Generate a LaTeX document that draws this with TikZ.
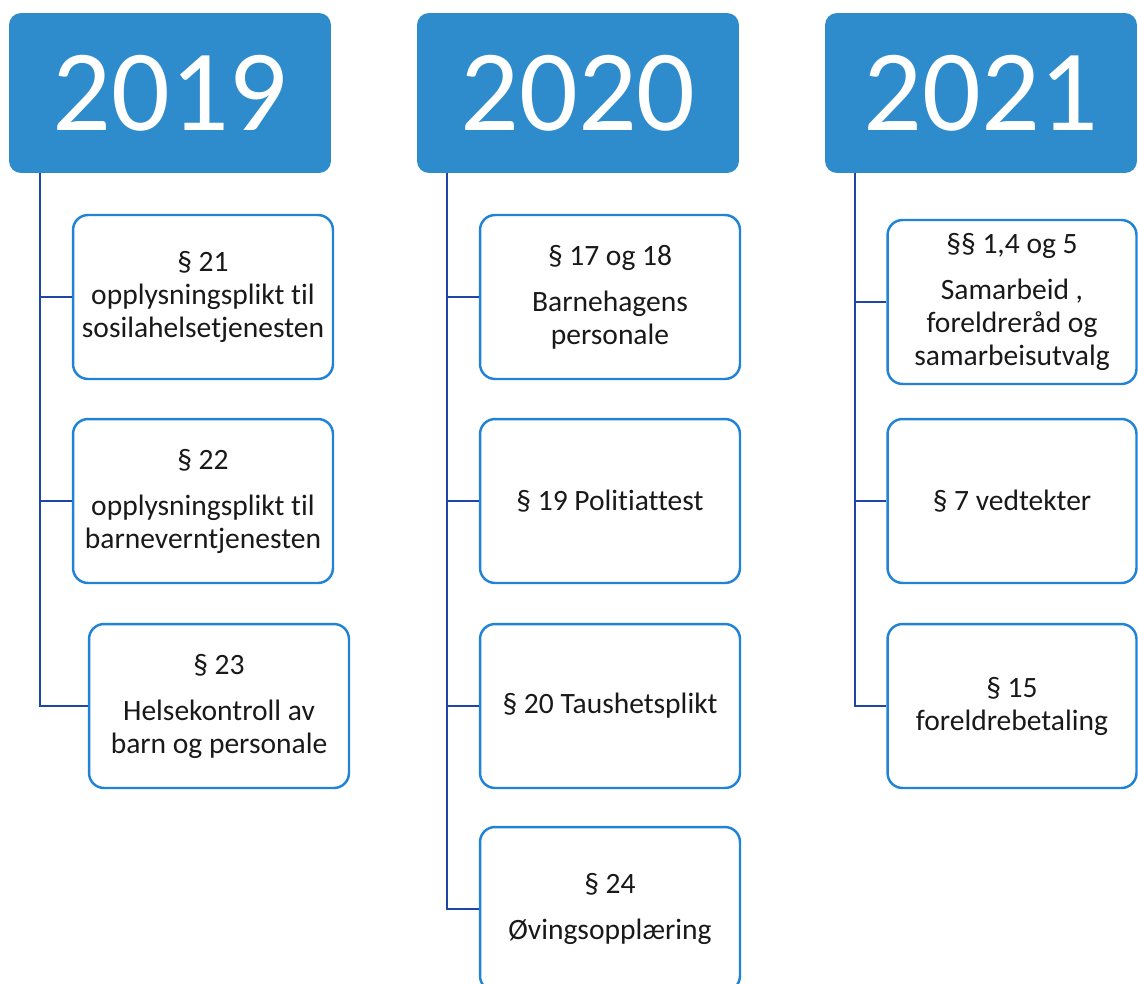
\documentclass[tikz,border=0pt]{standalone}
\usepackage{fontspec}
\setmainfont{Carlito}[Ligatures={NoCommon,NoRare,NoContextual}]
\usepackage{tikz}

\definecolor{headblue}{RGB}{46,139,204}
\definecolor{boxblue}{RGB}{33,131,214}
\definecolor{lineblue}{RGB}{30,70,165}
\definecolor{inktext}{RGB}{25,25,25}

\tikzset{
    yearbox/.style={rectangle, rounded corners=0.24cm, fill=headblue, text=white,
        minimum width=6.44cm, minimum height=3.2cm, inner sep=0pt,
        font=\fontsize{66}{72}\selectfont},
    lawbox/.style={rectangle, rounded corners=0.3cm, draw=boxblue, line width=1.4pt,
        fill=white, text=inktext, minimum width=5.2cm, minimum height=3.28cm, align=center,
        inner sep=0pt, font=\fontsize{16.8}{18.8}\selectfont},
    trunk/.style={draw=lineblue, line width=1.5pt}
}

\begin{document}
\begin{tikzpicture}[x=0.02cm, y=-0.02cm]
        \useasboundingbox (0,0) rectangle (1138,983);
        \clip (0,0) rectangle (1138,983);

        % Years
        \node[yearbox] (h19) at (170, 93) {2019};
        \node[yearbox] (h20) at (578, 93) {2020};
        \node[yearbox, minimum width=6.24cm] (h21) at (981, 93) {2021};

        % Trunks
        \coordinate (t19) at (40, 173);
        \coordinate (t20) at (447, 173);
        \coordinate (t21) at (855, 173);

        % 2019
        \node[lawbox] (b19a) at (203, 297) {§ 21\\opplysningsplikt til\\sosilahelsetjenesten};
        \node[lawbox] (b19b) at (203, 501) {§ 22\\[0.26cm]opplysningsplikt til\\barneverntjenesten};
        \node[lawbox] (b19c) at (219, 706) {§ 23\\[0.26cm]Helsekontroll av\\barn og personale};

        % 2020
        \node[lawbox] (b20a) at (610, 297) {§ 17 og 18\\[0.26cm]Barnehagens\\personale};
        \node[lawbox] (b20b) at (610, 501) {§ 19 Politiattest};
        \node[lawbox] (b20c) at (610, 706) {§ 20 Taushetsplikt};
        \node[lawbox] (b20d) at (610, 909) {§ 24\\[0.26cm]Øvingsopplæring};

        % 2021
        \node[lawbox, minimum width=4.98cm] (b21a) at (1012, 302) {§§ 1,4 og 5\\[0.26cm]Samarbeid ,\\foreldreråd og\\samarbeisutvalg};
        \node[lawbox, minimum width=4.98cm] (b21b) at (1012, 501) {§ 7 vedtekter};
        \node[lawbox, minimum width=4.98cm] (b21c) at (1012, 706) {§ 15\\foreldrebetaling};

        % Edges
        \draw[trunk] (t19) |- (b19c.west);
        \draw[trunk] (b19a.west) -- (b19a.west -| t19);
        \draw[trunk] (b19b.west) -- (b19b.west -| t19);

        \draw[trunk] (t20) |- (b20d.west);
        \draw[trunk] (b20a.west) -- (b20a.west -| t20);
        \draw[trunk] (b20b.west) -- (b20b.west -| t20);
        \draw[trunk] (b20c.west) -- (b20c.west -| t20);

        \draw[trunk] (t21) |- (b21c.west);
        \draw[trunk] (b21a.west) -- (b21a.west -| t21);
        \draw[trunk] (b21b.west) -- (b21b.west -| t21);

    \end{tikzpicture}
\end{document}
